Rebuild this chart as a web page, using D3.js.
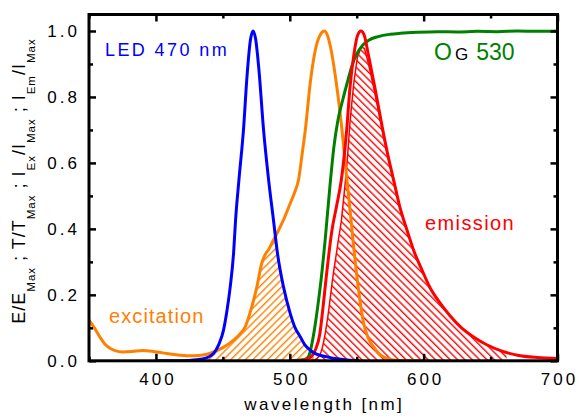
<!DOCTYPE html>
<html lang="en">
  <head>
    <meta charset="UTF-8" />
    <title>OG 530 spectra</title>
    <style>
      body {
        margin: 0;
        background: #fff;
      }
      svg text {
        font-family: "Liberation Sans", Arial, sans-serif;
      }
    </style>
  </head>
  <body>
    <svg width="579" height="418" id="chart"></svg>

    <script src="https://d3js.org/d3.v7.min.js"></script>
    <script>
      // [wavelength nm, relative value]
      var ledSpectrum = [
        [400, 0], [420, 0], [430, 0.003], [437, 0.008], [443, 0.022], [447, 0.05],
        [450.5, 0.093], [453, 0.15], [455.5, 0.224], [458, 0.326], [459.5, 0.427],
        [462, 0.548], [465.4, 0.7], [468, 0.86], [470.5, 0.97], [472.5, 1.0],
        [474.5, 0.975], [477, 0.88], [480.4, 0.7], [484.2, 0.548], [487.8, 0.427],
        [490.8, 0.326], [495.3, 0.224], [500.3, 0.144], [504, 0.1], [507.8, 0.073],
        [511, 0.05], [515.3, 0.032], [520, 0.02], [527.8, 0.012], [535, 0.006],
        [545, 0.002], [552, 0]
      ];
      var excitationSpectrum = [
        [350, 0.123], [354, 0.1], [358, 0.073], [362, 0.05], [366, 0.037], [370, 0.03],
        [375, 0.027], [382, 0.028], [390, 0.031], [397, 0.029], [405, 0.024],
        [415, 0.018], [425, 0.015], [432, 0.016], [438, 0.02], [443, 0.027],
        [450, 0.04], [458, 0.063], [462.5, 0.08], [466.7, 0.103], [471, 0.155],
        [475.4, 0.224], [479, 0.295], [482, 0.325], [484, 0.336], [487, 0.36],
        [490.4, 0.386], [495.3, 0.427], [500.3, 0.477], [504, 0.515], [506.5, 0.548],
        [509, 0.62], [511.6, 0.7], [515.5, 0.85], [519.5, 0.95], [523, 0.99],
        [525.8, 1.0], [528.3, 0.985], [530.5, 0.95], [534.5, 0.85], [539, 0.7],
        [542.7, 0.548], [545.2, 0.45], [547.7, 0.346], [551.4, 0.214], [555.2, 0.113],
        [558.5, 0.07], [562.6, 0.042], [567, 0.02], [572.7, 0.007], [580, 0.001], [600, 0]
      ];
      var emissionSpectrum = [
        [500, 0], [508, 0.001], [512, 0.005], [516, 0.012], [519, 0.032], [522.5, 0.083],
        [524.5, 0.15], [527, 0.245], [531.5, 0.396], [535, 0.47], [538.5, 0.548],
        [542.5, 0.7], [545, 0.83], [548, 0.932], [550.5, 0.985], [553.2, 1.0],
        [555.8, 0.985], [558.5, 0.932], [563.5, 0.83], [569.5, 0.7], [573.5, 0.62],
        [577.6, 0.548], [582, 0.47], [587.6, 0.396], [593, 0.33], [598.8, 0.275],
        [605, 0.22], [612.5, 0.174], [620, 0.135], [627.5, 0.103], [637, 0.073],
        [647.5, 0.048], [658, 0.03], [670, 0.017], [685, 0.01], [700, 0.007]
      ];
      var filterTransmission = [
        [500, 0], [506, 0.002], [512, 0.005], [514, 0.012], [516.6, 0.053], [519, 0.11],
        [521.5, 0.184], [523.5, 0.25], [526.5, 0.37], [530, 0.53], [533, 0.65],
        [536, 0.73], [539.5, 0.79], [542.7, 0.84], [546.5, 0.895], [550.2, 0.932],
        [554, 0.955], [559, 0.972], [566, 0.983], [575, 0.99], [582.6, 0.993],
        [595, 0.996], [610, 0.998], [625, 0.997], [640, 0.999], [655, 0.998],
        [670, 1.0], [685, 0.999], [700, 1.0]
      ];
      var xTicks = [400, 500, 600, 700];
      var xMinorTicks = [350, 450, 550, 650];
      var yTicks = [0, 0.2, 0.4, 0.6, 0.8, 1.0];
      var yMinorTicks = [0.1, 0.3, 0.5, 0.7, 0.9];
      var overlapRange = [430, 518];   // LED x excitation overlap, hatched orange
      var detectedRange = [505, 662];  // emission passed by the filter, hatched red

      var orange = "#ff8000", blue = "#0000ff", red = "#ff0000", green = "#008000";

      var svg = d3.select("#chart");
      var plotLeft = 89, plotRight = 557.5, plotTop = 14.5, plotBottom = 360.8;
      var x = d3.scaleLinear().domain([350, 700]).range([plotLeft, plotRight]);
      var y = d3.scaleLinear().domain([0, 1.05]).range([plotBottom, plotTop]);

      // hatch patterns
      var defs = svg.append("defs");
      function hatch(id, color, angle) {
        defs.append("pattern")
          .attr("id", id)
          .attr("patternUnits", "userSpaceOnUse")
          .attr("width", 5.2)
          .attr("height", 10)
          .attr("patternTransform", "rotate(" + angle + ")")
          .append("line")
          .attr("x1", 1.5).attr("y1", -1)
          .attr("x2", 1.5).attr("y2", 11)
          .attr("stroke", color)
          .attr("stroke-width", 1.4);
      }
      hatch("hatchOrange", orange, 45);
      hatch("hatchRed", red, -45);
      defs.append("clipPath").attr("id", "plotClip")
        .append("rect")
        .attr("x", plotLeft).attr("y", plotTop)
        .attr("width", plotRight - plotLeft).attr("height", plotBottom - plotTop);

      function valueAt(series, w) {
        var i = d3.bisector(function (d) { return d[0]; }).left(series, w);
        if (i < series.length && series[i][0] === w) return series[i][1];
        if (i <= 0 || i >= series.length) return 0;
        var a = series[i - 1], b = series[i];
        return a[1] + (b[1] - a[1]) * (w - a[0]) / (b[0] - a[0]);
      }

      var overlap = d3.range(overlapRange[0], overlapRange[1] + 0.01, 0.5).map(function (w) {
        return [w, Math.min(valueAt(ledSpectrum, w), valueAt(excitationSpectrum, w))];
      });
      var detected = d3.range(detectedRange[0], detectedRange[1] + 0.01, 0.5).map(function (w) {
        return [w, valueAt(emissionSpectrum, w) * valueAt(filterTransmission, w)];
      });

      var plot = svg.append("g").attr("clip-path", "url(#plotClip)");

      var area = d3.area()
        .x(function (d) { return x(d[0]); })
        .y0(y(0))
        .y1(function (d) { return y(d[1]); });
      var line = d3.line()
        .x(function (d) { return x(d[0]); })
        .y(function (d) { return y(d[1]); })
        .curve(d3.curveMonotoneX);

      plot.append("path").datum(overlap).attr("d", area).attr("fill", "url(#hatchOrange)");
      plot.append("path").datum(detected).attr("d", area).attr("fill", "url(#hatchRed)");
      plot.append("path").datum(detected)
        .attr("d", d3.line().x(function (d) { return x(d[0]); }).y(function (d) { return y(d[1]); }))
        .attr("fill", "none").attr("stroke", red).attr("stroke-width", 1.5);

      var curves = [
        [excitationSpectrum, orange],
        [filterTransmission, green],
        [emissionSpectrum, red],
        [ledSpectrum, blue]
      ];
      curves.forEach(function (c) {
        plot.append("path")
          .datum(c[0])
          .attr("d", line)
          .attr("fill", "none")
          .attr("stroke", c[1])
          .attr("stroke-width", 3)
          .attr("stroke-linejoin", "round");
      });

      // axes, ticks pointing inward on all four sides
      function styleAxis(g) {
        g.select(".domain").remove();
        g.selectAll(".tick line").attr("stroke", "#000").attr("stroke-width", 2.5);
        g.selectAll("text")
          .attr("fill", "#000")
          .style("font-size", "17px")
          .style("letter-spacing", "3px")
          .style("font-family", "'Liberation Sans', Arial, sans-serif");
      }
      svg.append("g").attr("transform", "translate(0," + plotBottom + ")")
        .call(d3.axisBottom(x).tickValues(xTicks).tickSize(-7).tickPadding(12).tickFormat(d3.format("d")))
        .call(styleAxis)
        .selectAll("text").attr("dx", "1.5px");
      svg.append("g").attr("transform", "translate(0," + plotBottom + ")")
        .call(d3.axisBottom(x).tickValues(xMinorTicks).tickSize(-4).tickFormat(""))
        .call(styleAxis);
      svg.append("g").attr("transform", "translate(0," + plotTop + ")")
        .call(d3.axisTop(x).tickValues(xTicks).tickSize(-7).tickFormat(""))
        .call(styleAxis);
      svg.append("g").attr("transform", "translate(0," + plotTop + ")")
        .call(d3.axisTop(x).tickValues(xMinorTicks).tickSize(-4).tickFormat(""))
        .call(styleAxis);
      svg.append("g").attr("transform", "translate(" + plotLeft + ",0)")
        .call(d3.axisLeft(y).tickValues(yTicks).tickSize(-7).tickPadding(9).tickFormat(d3.format(".1f")))
        .call(styleAxis);
      svg.append("g").attr("transform", "translate(" + plotLeft + ",0)")
        .call(d3.axisLeft(y).tickValues(yMinorTicks).tickSize(-4).tickFormat(""))
        .call(styleAxis);
      svg.append("g").attr("transform", "translate(" + plotRight + ",0)")
        .call(d3.axisRight(y).tickValues(yTicks).tickSize(-7).tickFormat(""))
        .call(styleAxis);
      svg.append("g").attr("transform", "translate(" + plotRight + ",0)")
        .call(d3.axisRight(y).tickValues(yMinorTicks).tickSize(-4).tickFormat(""))
        .call(styleAxis);

      svg.append("rect")
        .attr("x", plotLeft).attr("y", plotTop)
        .attr("width", plotRight - plotLeft).attr("height", plotBottom - plotTop)
        .attr("fill", "none").attr("stroke", "#000").attr("stroke-width", 3);

      // axis titles
      svg.append("text")
        .attr("x", (plotLeft + plotRight) / 2 + 1)
        .attr("y", 410)
        .attr("text-anchor", "middle")
        .style("font-size", "17px")
        .style("letter-spacing", "2.4px")
        .text("wavelength [nm]");

      var yTitle = svg.append("text")
        .attr("transform", "translate(25,181) rotate(-90)")
        .attr("text-anchor", "middle")
        .style("font-size", "18px")
        .style("letter-spacing", "1px");
      var yParts = [
        ["E/E", false], ["Max", true], [" ; T/T", false], ["Max", true],
        [" ; I", false], ["Ex", true], ["/I", false], ["Max", true],
        [" ; I", false], ["Em", true], ["/I", false], ["Max", true]
      ];
      yParts.forEach(function (p, i) {
        var prevSub = i > 0 && yParts[i - 1][1];
        var t = yTitle.append("tspan").text(p[0]);
        if (p[1]) t.attr("dy", 10).style("font-size", "11.5px");
        else if (prevSub) t.attr("dy", -10);
      });

      // curve labels
      svg.append("text").attr("x", 105).attr("y", 56)
        .attr("fill", blue).style("font-size", "18px").style("letter-spacing", "2.4px")
        .text("LED 470 nm");
      svg.append("text").attr("x", 109).attr("y", 323)
        .attr("fill", orange).style("font-size", "20px").style("letter-spacing", "1.1px")
        .text("excitation");
      svg.append("text").attr("x", 425).attr("y", 230)
        .attr("fill", red).style("font-size", "20px").style("letter-spacing", "1.4px")
        .text("emission");
      var og = svg.append("text").attr("x", 434).attr("y", 60).style("font-size", "23px");
      og.append("tspan").attr("fill", green).text("O");
      og.append("tspan").attr("fill", "#000").attr("dx", 3).style("font-size", "17px").text("G");
      og.append("tspan").attr("fill", green).attr("dx", 8).text("530");
    </script>
  </body>
</html>
